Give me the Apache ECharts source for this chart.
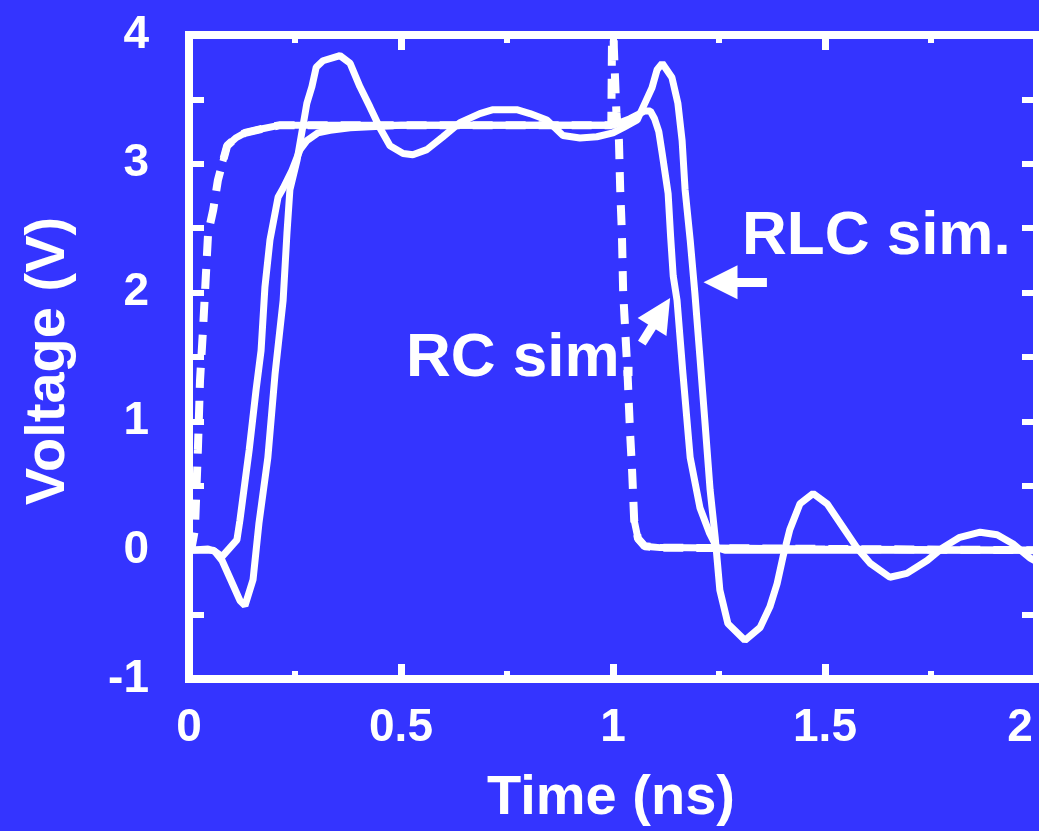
<!DOCTYPE html>
<html>
<head>
<meta charset="utf-8">
<title>Voltage vs Time</title>
<script src="https://cdn.jsdelivr.net/npm/echarts@6/dist/echarts.min.js"></script>
<style>
  html, body { margin: 0; padding: 0; background: #3434ff; }
  #main { width: 1039px; height: 831px; }
</style>
</head>
<body>
<div id="main"></div>
<script>
// axis ticks
var xTicks = [0, 0.5, 1, 1.5, 2]
var yTicks = [-1, 0, 1, 2, 3, 4]

// input waveform (dashed), [time ns, volts]
var inputWave = [
  [0, 0], [0.005, 0], [0.014, 0.16], [0.021, 0.78], [0.026, 1.32], [0.033, 1.71],
  [0.038, 2.02], [0.045, 2.46], [0.057, 2.64], [0.068, 2.87], [0.080, 3.02], [0.090, 3.14],
  [0.110, 3.20], [0.132, 3.24], [0.170, 3.27], [0.215, 3.30], [0.5, 3.30], [0.996, 3.30],
  [0.999, 4.5], [1.002, 3.9], [1.008, 3.4], [1.014, 3.18], [1.017, 2.80], [1.021, 2.46],
  [1.024, 2.00], [1.028, 1.76], [1.035, 1.32], [1.040, 0.93], [1.045, 0.62], [1.050, 0.23],
  [1.059, 0.09], [1.075, 0.03], [1.111, 0.02], [1.5, 0.01], [2.0, 0]
]
// parts of the input drawn solid (flat top / flat bottom)
var inputSolidRanges = [[0.08, 0.996], [1.05, 2.0]]

// RC simulation
var rcSim = [
  [0, 0], [0.057, 0], [0.078, -0.05], [0.113, 0.08], [0.120, 0.23], [0.142, 0.78],
  [0.158, 1.24], [0.170, 1.55], [0.179, 2.04], [0.191, 2.41], [0.210, 2.74], [0.222, 2.81],
  [0.243, 2.95], [0.262, 3.11], [0.278, 3.18], [0.304, 3.24], [0.333, 3.26], [0.38, 3.28],
  [0.5, 3.30], [0.96, 3.30], [1.0, 3.30], [1.04, 3.35], [1.075, 3.41], [1.088, 3.41],
  [1.098, 3.35], [1.108, 3.25], [1.116, 3.08], [1.130, 2.77], [1.136, 2.43], [1.142, 2.13],
  [1.151, 1.94], [1.165, 1.37], [1.182, 0.72], [1.205, 0.33], [1.228, 0.13], [1.245, 0.02],
  [1.264, 0], [1.5, 0], [2.0, 0]
]

// RLC simulation
var rlcSim = [
  [0, 0], [0.045, 0.01], [0.061, -0.01], [0.078, -0.08], [0.097, -0.22], [0.12, -0.39],
  [0.132, -0.43], [0.151, -0.23], [0.165, 0.21], [0.186, 0.72], [0.203, 1.37], [0.222, 1.94],
  [0.231, 2.46], [0.238, 2.80], [0.255, 3.03], [0.278, 3.47], [0.29, 3.60], [0.30, 3.75],
  [0.316, 3.80], [0.356, 3.84], [0.38, 3.78], [0.403, 3.60], [0.427, 3.44], [0.45, 3.28],
  [0.474, 3.14], [0.505, 3.08], [0.528, 3.07], [0.561, 3.11], [0.599, 3.21], [0.639, 3.32],
  [0.686, 3.39], [0.717, 3.42], [0.773, 3.42], [0.804, 3.39], [0.844, 3.34], [0.882, 3.22],
  [0.922, 3.20], [0.962, 3.21], [1.0, 3.24], [1.024, 3.28], [1.057, 3.34], [1.071, 3.44],
  [1.092, 3.59], [1.104, 3.73], [1.116, 3.78], [1.139, 3.67], [1.153, 3.47], [1.163, 3.18],
  [1.170, 2.80], [1.182, 2.41], [1.193, 2.00], [1.205, 1.50], [1.217, 0.99], [1.229, 0.47],
  [1.241, 0.10], [1.252, -0.31], [1.271, -0.57], [1.311, -0.70], [1.347, -0.60], [1.370, -0.44],
  [1.387, -0.26], [1.401, -0.05], [1.417, 0.16], [1.441, 0.36], [1.472, 0.44], [1.505, 0.36],
  [1.542, 0.18], [1.575, 0.02], [1.606, -0.10], [1.653, -0.21], [1.693, -0.18], [1.741, -0.08],
  [1.778, 0.02], [1.818, 0.10], [1.866, 0.14], [1.906, 0.12], [1.943, 0.05], [1.983, -0.06],
  [2.0, -0.09]
]

// annotation arrows in data coords: [tail, head centre]
var rlcArrow = [[1.363, 2.08], [1.2535, 2.08]]
var rcArrow = [[1.068, 1.607], [1.1134, 1.8455]]

var white = '#ffffff'
var blue = '#3434ff'
var font = "'Liberation Sans', Arial, sans-serif"

var inputSolid = inputWave.map(function (p) {
  var keep = inputSolidRanges.some(function (r) { return p[0] >= r[0] && p[0] <= r[1] })
  return keep ? p : [p[0], '-']
})

function xAxisCfg (pos) {
  return {
    type: 'value', position: pos, min: xTicks[0], max: xTicks[xTicks.length - 1], interval: 0.5,
    axisLine: { show: false, onZero: false },
    splitLine: { show: false },
    axisTick: { show: true, inside: true, length: 15, lineStyle: { color: white, width: 7 } },
    minorTick: { show: true, splitNumber: 2, length: 8, lineStyle: { color: white, width: 6 } },
    axisLabel: {
      show: pos === 'bottom', margin: 26, color: white, fontSize: 46, fontWeight: 'bold', fontFamily: font,
      showMinLabel: true, showMaxLabel: true,
      formatter: function (v) { return v === 2 ? '{last|2}' : String(v) },
      rich: { last: { color: white, fontSize: 46, fontWeight: 'bold', fontFamily: font, padding: [0, 34, 0, 0] } }
    }
  }
}
function yAxisCfg (pos) {
  return {
    type: 'value', position: pos, min: yTicks[0], max: yTicks[yTicks.length - 1], interval: 1,
    axisLine: { show: false, onZero: false },
    splitLine: { show: false },
    axisTick: { show: true, inside: true, length: 15, lineStyle: { color: white, width: 6 } },
    minorTick: { show: true, splitNumber: 2, length: 15, lineStyle: { color: white, width: 6 } },
    axisLabel: {
      show: pos === 'left', margin: 40, color: white, fontSize: 46, fontWeight: 'bold', fontFamily: font,
      showMinLabel: true, showMaxLabel: true
    }
  }
}

var chart = echarts.init(document.getElementById('main'), null, { renderer: 'canvas' })
var option = {
  animation: false,
  backgroundColor: blue,
  grid: {
    left: 189, right: 2, top: 35, bottom: 152,
    containLabel: false, outerBoundsMode: 'none',
    show: true, borderColor: white, borderWidth: 8, backgroundColor: 'transparent'
  },
  xAxis: [xAxisCfg('bottom'), xAxisCfg('top')],
  yAxis: [yAxisCfg('left'), yAxisCfg('right')],
  series: [
    {
      name: 'input flat', type: 'line', data: inputSolid, showSymbol: false, silent: true,
      lineStyle: { color: white, width: 7 }, connectNulls: false
    },
    {
      name: 'input', type: 'line', data: inputWave, showSymbol: false, silent: true,
      lineStyle: { color: white, width: 8, type: [20, 13] }
    },
    {
      name: 'RC sim.', type: 'line', data: rcSim, showSymbol: false, silent: true,
      lineStyle: { color: white, width: 7 },
      markLine: {
        silent: true, symbol: ['none', 'triangle'], symbolSize: [34, 34],
        label: { show: false },
        lineStyle: { color: white, width: 9, type: 'solid', opacity: 1 },
        data: [
          [{ coord: rlcArrow[0] }, { coord: rlcArrow[1] }],
          [{ coord: rcArrow[0] }, { coord: rcArrow[1] }]
        ]
      }
    },
    {
      name: 'RLC sim.', type: 'line', data: rlcSim, showSymbol: false, silent: true,
      lineStyle: { color: white, width: 7 }
    }
  ],
  graphic: [
    { type: 'text', x: 49, y: 361, rotation: Math.PI / 2,
      style: { text: 'Voltage (V)', fill: white, font: 'bold 56px ' + font, align: 'center', verticalAlign: 'middle' } },
    { type: 'text', x: 611, y: 799,
      style: { text: 'Time (ns)', fill: white, font: 'bold 56px ' + font, align: 'center', verticalAlign: 'middle' } },
    { type: 'text', x: 742, y: 237,
      style: { text: 'RLC sim.', fill: white, font: 'bold 62px ' + font, align: 'left', verticalAlign: 'middle' } },
    { type: 'text', x: 406, y: 359,
      style: { text: 'RC sim.', fill: white, font: 'bold 62px ' + font, align: 'left', verticalAlign: 'middle' } }
  ]
}
chart.setOption(option)
</script>
</body>
</html>
